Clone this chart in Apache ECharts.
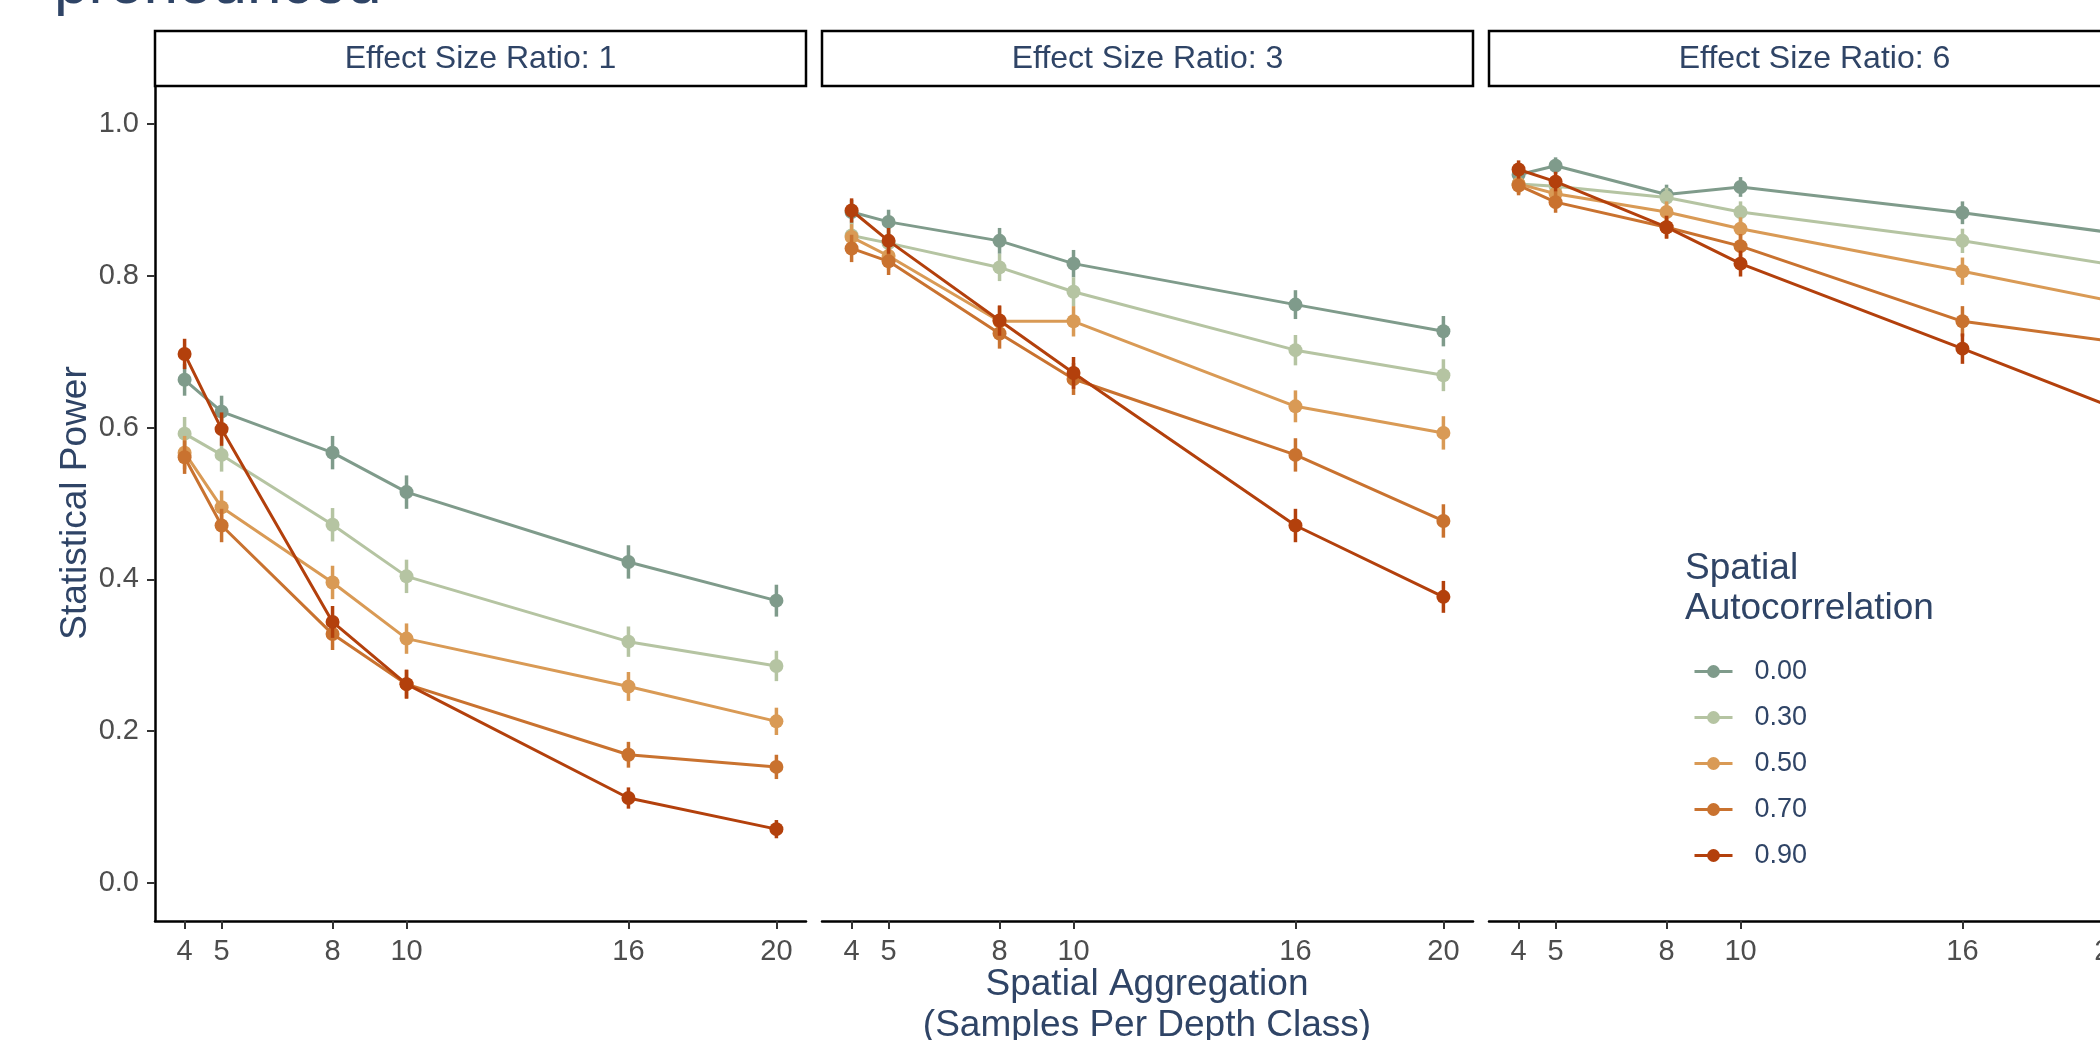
<!DOCTYPE html>
<html>
<head>
<meta charset="utf-8">
<script src="https://cdn.jsdelivr.net/npm/echarts@6/dist/echarts.min.js"></script>
<style>
  html, body { margin: 0; padding: 0; background: #fff; }
  #echart { width: 2100px; height: 1040px; }
</style>
</head>
<body>
<div id="echart"></div>
<script>
// x 轴：每个深度类的样本数
var xValues = [4, 5, 8, 10, 16, 20];
var xTicks = [4, 5, 8, 10, 16, 20];
var yTicks = [0, 0.2, 0.4, 0.6, 0.8, 1.0];
var panelNames = ["Effect Size Ratio: 1", "Effect Size Ratio: 3", "Effect Size Ratio: 6"];
var autocorrNames = ["0.00", "0.30", "0.50", "0.70", "0.90"];
var colors = ["#7f9b8b", "#b5c4a2", "#d99a55", "#c9722f", "#b3400c"];

// Effect Size Ratio: 1
var power1_000 = [0.663, 0.621, 0.567, 0.515, 0.423, 0.372];
var power1_030 = [0.592, 0.564, 0.472, 0.404, 0.318, 0.286];
var power1_050 = [0.567, 0.495, 0.396, 0.322, 0.259, 0.213];
var power1_070 = [0.561, 0.471, 0.328, 0.262, 0.169, 0.153];
var power1_090 = [0.697, 0.598, 0.344, 0.262, 0.112, 0.071];
// Effect Size Ratio: 3
var power3_000 = [0.884, 0.871, 0.846, 0.816, 0.762, 0.727];
var power3_030 = [0.853, 0.843, 0.811, 0.779, 0.702, 0.669];
var power3_050 = [0.851, 0.826, 0.740, 0.740, 0.628, 0.593];
var power3_070 = [0.836, 0.819, 0.724, 0.664, 0.564, 0.477];
var power3_090 = [0.886, 0.846, 0.741, 0.672, 0.471, 0.377];
// Effect Size Ratio: 6
var power6_000 = [0.933, 0.945, 0.907, 0.917, 0.883, 0.857];
var power6_030 = [0.921, 0.918, 0.903, 0.884, 0.846, 0.815];
var power6_050 = [0.921, 0.908, 0.884, 0.862, 0.806, 0.767];
var power6_070 = [0.919, 0.897, 0.864, 0.839, 0.740, 0.714];
var power6_090 = [0.940, 0.924, 0.864, 0.816, 0.704, 0.628];

// 误差线半宽
var err1_000 = [0.021, 0.021, 0.022, 0.022, 0.022, 0.021];
var err1_030 = [0.022, 0.022, 0.022, 0.022, 0.020, 0.020];
var err1_050 = [0.022, 0.022, 0.022, 0.020, 0.019, 0.018];
var err1_070 = [0.022, 0.022, 0.021, 0.019, 0.017, 0.016];
var err1_090 = [0.020, 0.022, 0.021, 0.019, 0.014, 0.012];
var err3_000 = [0.016, 0.016, 0.017, 0.018, 0.019, 0.020];
var err3_030 = [0.017, 0.017, 0.018, 0.019, 0.020, 0.021];
var err3_050 = [0.017, 0.018, 0.020, 0.020, 0.021, 0.022];
var err3_070 = [0.018, 0.018, 0.020, 0.021, 0.022, 0.022];
var err3_090 = [0.016, 0.017, 0.020, 0.021, 0.022, 0.021];
var err6_000 = [0.012, 0.011, 0.013, 0.013, 0.015, 0.016];
var err6_030 = [0.013, 0.013, 0.013, 0.014, 0.016, 0.017];
var err6_050 = [0.013, 0.013, 0.014, 0.015, 0.018, 0.019];
var err6_070 = [0.013, 0.014, 0.015, 0.016, 0.020, 0.020];
var err6_090 = [0.012, 0.013, 0.015, 0.017, 0.020, 0.022];

var powerData = [
  [power1_000, power1_030, power1_050, power1_070, power1_090],
  [power3_000, power3_030, power3_050, power3_070, power3_090],
  [power6_000, power6_030, power6_050, power6_070, power6_090]
];
var errData = [
  [err1_000, err1_030, err1_050, err1_070, err1_090],
  [err3_000, err3_030, err3_050, err3_070, err3_090],
  [err6_000, err6_030, err6_050, err6_070, err6_090]
];

var FONT = "'Liberation Sans', Arial, sans-serif";
var NAVY = "#2f4466";
var panelLeft = [155, 822, 1489];
var panelWidth = 651;
var panelTop = 86;
var panelHeight = 835;

var myChart = echarts.init(document.getElementById("echart"));

var grids = [], xAxes = [], yAxes = [], series = [], graphics = [];

for (var p = 0; p < 3; p++) {
  // 第三个分面超出画布右侧（原图被裁切），关掉 outerBounds 以免被压缩
  grids.push({
    left: panelLeft[p],
    top: panelTop,
    width: panelWidth,
    height: panelHeight,
    outerBoundsMode: "none",
    containLabel: false
  });
  xAxes.push({
    type: "value",
    gridIndex: p,
    min: 3.2,
    max: 20.8,
    splitLine: { show: false },
    axisLine: { onZero: false, lineStyle: { color: "#000", width: 2.5 } },
    axisTick: { customValues: xTicks, length: 8, lineStyle: { color: "#333", width: 2 } },
    axisLabel: { customValues: xTicks, color: "#4d4d4d", fontSize: 29, fontFamily: FONT, margin: 16 }
  });
  yAxes.push({
    type: "value",
    gridIndex: p,
    min: -0.05,
    max: 1.05,
    show: p === 0,
    splitLine: { show: false },
    axisLine: { show: true, onZero: false, lineStyle: { color: "#000", width: 2.5 } },
    axisTick: { customValues: yTicks, length: 8, lineStyle: { color: "#333", width: 2 } },
    axisLabel: {
      customValues: yTicks,
      color: "#4d4d4d",
      fontSize: 29,
      fontFamily: FONT,
      margin: 16,
      formatter: function (v) { return v.toFixed(1); }
    }
  });

  // 分面标题框
  graphics.push({
    type: "rect",
    shape: { x: panelLeft[p], y: 31, width: panelWidth, height: 55 },
    style: { fill: "#fff", stroke: "#000", lineWidth: 2.5 }
  });
  graphics.push({
    type: "text",
    x: panelLeft[p] + panelWidth / 2,
    y: 59,
    style: { text: panelNames[p], fill: NAVY, font: "32px " + FONT, align: "center", verticalAlign: "middle" }
  });

  for (var a = 0; a < 5; a++) {
    var vals = powerData[p][a];
    var errs = errData[p][a];
    var errRows = [];
    var pts = [];
    for (var i = 0; i < xValues.length; i++) {
      errRows.push([xValues[i], vals[i] - errs[i], vals[i] + errs[i]]);
      pts.push([xValues[i], vals[i]]);
    }
    series.push({
      type: "line",
      name: autocorrNames[a],
      xAxisIndex: p,
      yAxisIndex: p,
      data: pts,
      z: 3 + a,
      symbol: "circle",
      symbolSize: 14,
      showSymbol: true,
      silent: true,
      clip: false,
      color: colors[a],
      itemStyle: { color: colors[a] },
      lineStyle: { color: colors[a], width: 3 }
    });
    series.push({
      type: "custom",
      name: "err " + autocorrNames[a],
      xAxisIndex: p,
      yAxisIndex: p,
      data: errRows,
      z: 3 + a,
      silent: true,
      renderItem: (function (col) {
        return function (params, api) {
          var lo = api.coord([api.value(0), api.value(1)]);
          var hi = api.coord([api.value(0), api.value(2)]);
          return {
            type: "line",
            shape: { x1: lo[0], y1: lo[1], x2: hi[0], y2: hi[1] },
            style: { stroke: col, lineWidth: 3.5 }
          };
        };
      })(colors[a])
    });
  }
}

// 标题残留部分（原图顶部被裁切）
graphics.push({
  type: "text",
  x: 54,
  y: -14,
  style: { text: "pronounced", fill: NAVY, font: "62px " + FONT, align: "left", verticalAlign: "middle" }
});
// y 轴标题
graphics.push({
  type: "text",
  x: 76,
  y: 503,
  rotation: Math.PI / 2,
  style: { text: "Statistical Power", fill: NAVY, font: "37px " + FONT, align: "center", verticalAlign: "middle" }
});
// x 轴标题
graphics.push({
  type: "text",
  x: 1147,
  y: 1005,
  style: {
    text: "Spatial Aggregation\n(Samples Per Depth Class)",
    fill: NAVY,
    font: "37px " + FONT,
    lineHeight: 41,
    align: "center",
    verticalAlign: "middle"
  }
});
// 图例标题
graphics.push({
  type: "text",
  x: 1685,
  y: 549,
  style: {
    text: "Spatial\nAutocorrelation",
    fill: NAVY,
    font: "37px " + FONT,
    lineHeight: 40,
    align: "left",
    verticalAlign: "top"
  }
});

var option = {
  animation: false,
  backgroundColor: "#fff",
  grid: grids,
  xAxis: xAxes,
  yAxis: yAxes,
  legend: {
    data: autocorrNames,
    orient: "vertical",
    left: 1688,
    top: 653,
    itemWidth: 38,
    itemHeight: 16,
    itemGap: 19,
    selectedMode: false,
    lineStyle: { width: 3 },
    textStyle: { color: NAVY, fontSize: 27, fontFamily: FONT, lineHeight: 26, padding: [0, 0, 0, 17] }
  },
  graphic: graphics,
  series: series
};
myChart.setOption(option);
</script>
</body>
</html>
